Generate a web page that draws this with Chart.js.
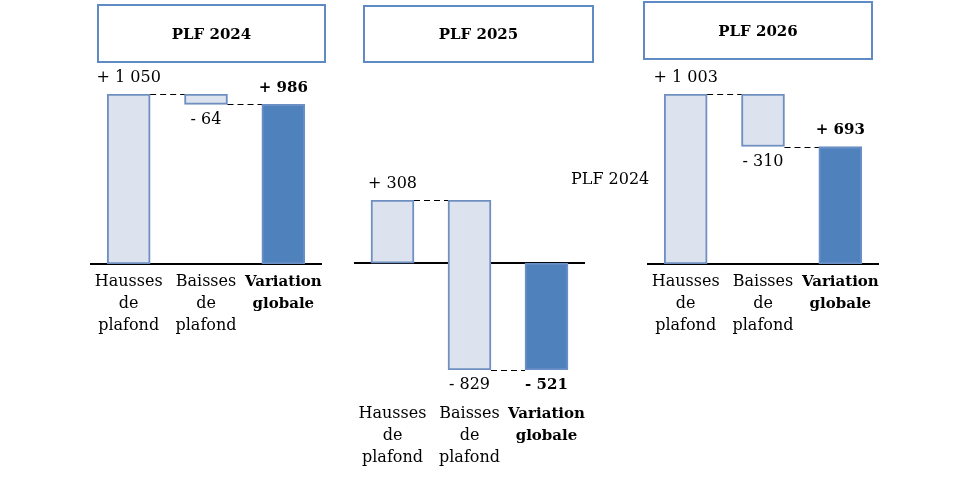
<!DOCTYPE html>
<html>
<head>
<meta charset="utf-8">
<script src="https://cdn.jsdelivr.net/npm/chart.js@4/dist/chart.umd.min.js"></script>
<style>
    body { margin: 0; background: #fff; width: 969px; height: 483px; position: relative; overflow: hidden; font-family: "DejaVu Serif", serif; }
    .panel { position: absolute; }
    .title-box { position: absolute; border: 2px solid #5f8ac4; box-sizing: border-box; display: flex; align-items: center; justify-content: center; font-weight: bold; font-size: 15px; color: #000; }
    .stray { position: absolute; font-size: 16px; color: #000; }
</style>
</head>
<body>
<div id="charts"></div>
<div class="stray" style="left:571px; top:169px;">PLF 2024</div>
<script>
// data
const panelTitles = ['PLF 2024', 'PLF 2025', 'PLF 2026']
const categories = [['Hausses', 'de', 'plafond'], ['Baisses', 'de', 'plafond'], ['Variation', 'globale']]
const hausses = [1050, 308, 1003]
const baisses = [-64, -829, -310]
const variation = [986, -521, 693]
const yMin = [0, -521, 0]
const yMax = [1050, 308, 1003]

// where each panel sits on the page
const layout = [
    { left: 90, top: 94, width: 232, tickPad: 7, box: [97, 4, 229, 59] },
    { left: 354, top: 200, width: 231, tickPad: 33, box: [363, 5, 231, 58] },
    { left: 647, top: 94, width: 232, tickPad: 7, box: [643, 1, 230, 59] }
]
const SIDE = 45 // room for the outer tick labels so the plot area does not shrink

const FONT = '"DejaVu Serif"'
const LIGHT = '#dce3ee'
const LIGHT_BORDER = '#6f8fc0'
const DARK = '#4f81bd'
const DARK_BORDER = '#6a8ec6'

function fmt(v) {
    const s = Math.abs(v).toString().replace(/\B(?=(\d{3})+(?!\d))/g, ' ')
    return (v < 0 ? '- ' : '+ ') + s
}

const waterfallPlugin = {
    id: 'waterfall',
    beforeDatasetsDraw(chart) {
        // zero line, under the bars
        const ctx = chart.ctx
        const area = chart.chartArea
        const y0 = Math.round(chart.scales.y.getPixelForValue(0))
        ctx.save()
        ctx.strokeStyle = '#000'
        ctx.lineWidth = 2
        ctx.beginPath()
        ctx.moveTo(area.left, y0)
        ctx.lineTo(area.right, y0)
        ctx.stroke()
        ctx.restore()
    },
    afterDatasetsDraw(chart) {
        const ctx = chart.ctx
        const y = chart.scales.y
        const bars = chart.getDatasetMeta(0).data
        const vals = chart.data.datasets[0].deltas

        ctx.save()
        // dashed connectors
        ctx.strokeStyle = '#000'
        ctx.lineWidth = 1
        ctx.setLineDash([6, 4])
        const levels = chart.data.datasets[0].data.map(d => d[1])
        for (let i = 0; i < bars.length - 1; i++) {
            const a = bars[i], b = bars[i + 1]
            const py = Math.round(y.getPixelForValue(levels[i])) + 0.5
            ctx.beginPath()
            ctx.moveTo(a.x + a.width / 2, py)
            ctx.lineTo(b.x - b.width / 2, py)
            ctx.stroke()
        }
        ctx.setLineDash([])

        // value labels
        ctx.fillStyle = '#000'
        ctx.textAlign = 'center'
        ctx.textBaseline = 'middle'
        bars.forEach((bar, i) => {
            const top = Math.min(bar.y, bar.base)
            const bottom = Math.max(bar.y, bar.base)
            ctx.font = (i === 2 ? 'bold 15px ' : '16px ') + FONT
            if (vals[i] >= 0) {
                ctx.fillText(fmt(vals[i]), bar.x, top - 16)
            } else {
                ctx.fillText(fmt(vals[i]), bar.x, bottom + 15)
            }
        })
        ctx.restore()
    }
}

const holder = document.getElementById('charts')

for (let p = 0; p < 3; p++) {
    const L = layout[p]

    const box = document.createElement('div')
    box.className = 'title-box'
    box.style.left = L.box[0] + 'px'
    box.style.top = L.box[1] + 'px'
    box.style.width = L.box[2] + 'px'
    box.style.height = L.box[3] + 'px'
    box.textContent = panelTitles[p]
    document.body.appendChild(box)

    const div = document.createElement('div')
    div.className = 'panel'
    div.style.left = (L.left - SIDE) + 'px'
    div.style.top = (L.top - 40) + 'px'
    div.style.width = (L.width + 2 * SIDE) + 'px'
    div.style.height = (40 + 170 + 100) + 'px'
    const canvas = document.createElement('canvas')
    div.appendChild(canvas)
    holder.appendChild(div)

    const h = hausses[p], b = baisses[p], v = variation[p]

    new Chart(canvas, {
        type: 'bar',
        data: {
            labels: categories,
            datasets: [{
                data: [[0, h], [h, h + b], [0, v]],
                deltas: [h, b, v],
                backgroundColor: [LIGHT, LIGHT, DARK],
                borderColor: [LIGHT_BORDER, LIGHT_BORDER, DARK_BORDER],
                borderWidth: 2,
                borderSkipped: false,
                barThickness: 43
            }]
        },
        options: {
            responsive: true,
            maintainAspectRatio: false,
            animation: false,
            layout: { padding: { top: 40, left: SIDE, right: SIDE, bottom: 0 } },
            plugins: { legend: { display: false }, tooltip: { enabled: false } },
            scales: {
                x: {
                    grid: { display: false, drawTicks: false },
                    border: { display: false },
                    afterFit: (scale) => { scale.height = 100 },
                    ticks: {
                        color: '#000',
                        padding: L.tickPad,
                        maxRotation: 0,
                        autoSkip: false,
                        font: (c) => c.index === 2
                            ? { family: FONT, size: 15, weight: 'bold', lineHeight: '22px' }
                            : { family: FONT, size: 16, lineHeight: '22px' }
                    }
                },
                y: {
                    display: false,
                    min: yMin[p],
                    max: yMax[p]
                }
            }
        },
        plugins: [waterfallPlugin]
    })
}
</script>
</body>
</html>
